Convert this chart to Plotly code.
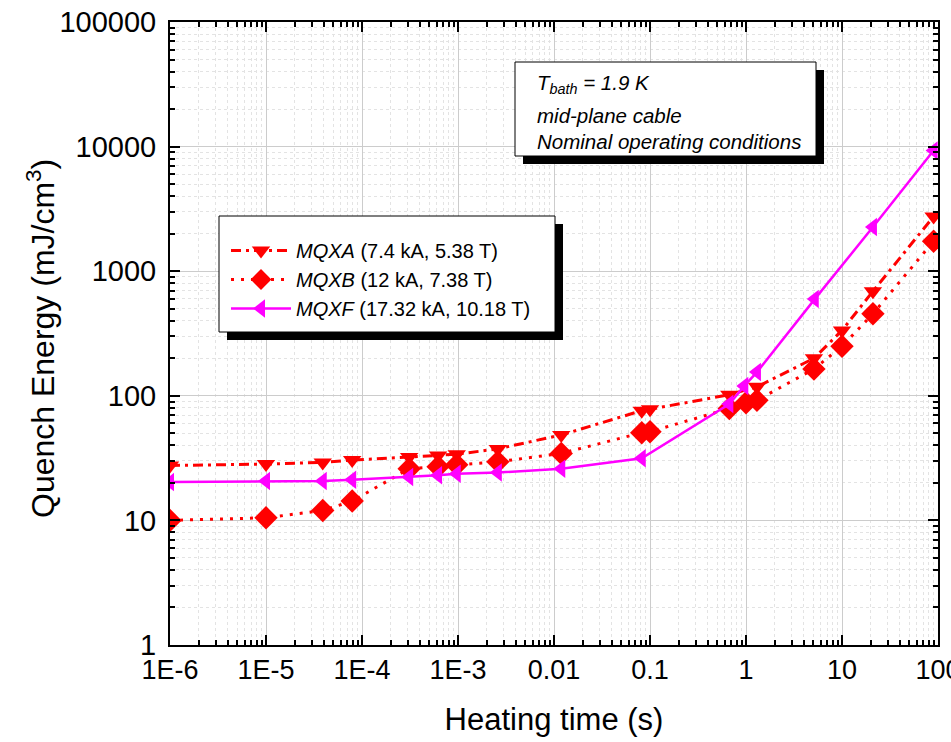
import numpy as np
import plotly.graph_objects as go

# Heating time (s) and quench energy (mJ/cm^3) for each magnet type
mqxa_t = [1e-6, 1e-5, 3.9e-5, 7.9e-5, 3.1e-4, 6.2e-4, 9.7e-4, 2.6e-3, 0.0119, 0.082, 0.1, 0.67, 1.3, 5.1, 10, 21, 90]
mqxa_e = [27.6, 28.3, 29.2, 30.5, 32.2, 33.2, 34, 37.5, 48.5, 76, 78, 102, 118, 200, 335, 690, 2750]

mqxb_t = [1e-6, 1e-5, 3.9e-5, 7.9e-5, 3.1e-4, 6.2e-4, 9.7e-4, 2.6e-3, 0.0119, 0.082, 0.1, 0.67, 1.0, 1.3, 5.1, 10, 21, 90]
mqxb_e = [10, 10.5, 12, 14.3, 26, 27, 28, 29.5, 34.5, 50.5, 51.5, 79, 88, 92, 164, 250, 455, 1740]

mqxf_t = [1e-6, 1e-5, 3.9e-5, 7.9e-5, 3.1e-4, 6.2e-4, 9.7e-4, 2.6e-3, 0.0119, 0.082, 0.67, 0.96, 1.3, 5.2, 21, 90]
mqxf_e = [20.3, 20.7, 20.7, 21.2, 22.3, 23, 23.7, 24.2, 26, 31.5, 86, 120, 155, 597, 2260, 9300]

series_names = [
    "<i>MQXA</i> (7.4 kA, 5.38 T)",
    "<i>MQXB</i> (12 kA, 7.38 T)",
    "<i>MQXF</i> (17.32 kA, 10.18 T)",
]

x_tick_vals = [1e-6, 1e-5, 1e-4, 1e-3, 0.01, 0.1, 1, 10, 100]
x_tick_text = ["1E-6", "1E-5", "1E-4", "1E-3", "0.01", "0.1", "1", "10", "100"]
y_tick_vals = [1, 10, 100, 1000, 10000, 100000]
y_tick_text = ["1", "10", "100", "1000", "10000", "100000"]

W, H = 951, 742
L, R, T, B = 170, 938, 22, 645  # plot-area edges in pixels

def px_x(px):
    return (px - L) / (R - L)

def px_y(py):
    return (B - py) / (B - T)

def minor_vals(lo, hi):
    return [m * 10.0 ** k for k in range(lo, hi) for m in range(2, 10)]

SANS = "Liberation Sans, Arial, sans-serif"

fig = go.Figure()

fig.add_trace(go.Scatter(
    x=mqxa_t, y=mqxa_e, name=series_names[0], mode="lines+markers",
    line=dict(color="#ff0000", width=3, dash="10px,5px,3px,5px"),
    marker=dict(symbol="triangle-down", size=16, color="#ff0000"),
))
fig.add_trace(go.Scatter(
    x=mqxb_t, y=mqxb_e, name=series_names[1], mode="lines+markers",
    line=dict(color="#ff0000", width=3, dash="3px,7px"),
    marker=dict(symbol="diamond", size=18, color="#ff0000"),
))
fig.add_trace(go.Scatter(
    x=mqxf_t, y=mqxf_e, name=series_names[2], mode="lines+markers",
    line=dict(color="#ff00ff", width=2.5),
    marker=dict(symbol="triangle-left", size=16, color="#ff00ff"),
))

shapes = []
# legend frame and text box, each with a drop shadow
for (x0, y0, x1, y1, off) in [(219, 216, 555, 332, 8), (515, 62, 816, 156, 8)]:
    shapes.append(dict(type="rect", xref="paper", yref="paper", layer="above",
                       x0=px_x(x0 + off), x1=px_x(x1 + off), y0=px_y(y0 + off), y1=px_y(y1 + off),
                       fillcolor="black", line=dict(width=0)))
    shapes.append(dict(type="rect", xref="paper", yref="paper", layer="above",
                       x0=px_x(x0), x1=px_x(x1), y0=px_y(y0), y1=px_y(y1),
                       fillcolor="white", line=dict(color="black", width=1)))

notes = [
    ("<i>T<sub>bath</sub> = 1.9 K</i>", 84),
    ("<i>mid-plane cable</i>", 115),
    ("<i>Nominal operating conditions</i>", 141),
]
annotations = [
    dict(text=t, x=px_x(535), y=px_y(py), xref="paper", yref="paper",
         xanchor="left", yanchor="middle", showarrow=False,
         font=dict(family=SANS, size=20.5, color="black"))
    for t, py in notes
]
# vertical axis title
annotations.append(dict(
    text="Quench Energy (mJ/cm<sup>3</sup>)", textangle=-90,
    x=px_x(41), y=px_y(339), xref="paper", yref="paper",
    xanchor="center", yanchor="middle", showarrow=False,
    font=dict(family=SANS, size=32, color="black"),
))

axis_common = dict(
    type="log", showline=True, linecolor="black", linewidth=2, mirror="allticks",
    ticks="inside", ticklen=10, tickwidth=2, tickcolor="black",
    showgrid=True, gridcolor="#cccccc", gridwidth=1, zeroline=False,
    ticklabeloverflow="allow", automargin=False,
)

fig.update_layout(
    width=W, height=H,
    margin=dict(l=L, r=W - R, t=T, b=H - B, autoexpand=False),
    paper_bgcolor="white", plot_bgcolor="white",
    showlegend=True,
    legend=dict(x=px_x(226), y=px_y(231), xanchor="left", yanchor="top",
                bgcolor="rgba(0,0,0,0)", borderwidth=0,
                font=dict(family=SANS, size=20, color="black"),
                itemwidth=60, tracegroupgap=0),
    shapes=shapes,
    annotations=annotations,
    xaxis=dict(
        axis_common, range=[-6, 2],
        tickvals=x_tick_vals, ticktext=x_tick_text,
        tickfont=dict(family=SANS, size=27, color="black"),
        minor=dict(tickvals=minor_vals(-6, 2), ticks="inside", ticklen=5, tickwidth=1.5,
                   tickcolor="black", showgrid=True, gridcolor="#e3e3e3", griddash="dot", gridwidth=1),
        title=dict(text="Heating time (s)", standoff=24,
                   font=dict(family=SANS, size=31, color="black")),
    ),
    yaxis=dict(
        axis_common, range=[0, 5],
        tickvals=y_tick_vals, ticktext=y_tick_text, ticklabelstandoff=6,
        tickfont=dict(family=SANS, size=29, color="black"),
        minor=dict(tickvals=minor_vals(0, 5), ticks="inside", ticklen=5, tickwidth=1.5,
                   tickcolor="black", showgrid=True, gridcolor="#e3e3e3", griddash="dot", gridwidth=1),
    ),
)

fig.write_html("out.html")
